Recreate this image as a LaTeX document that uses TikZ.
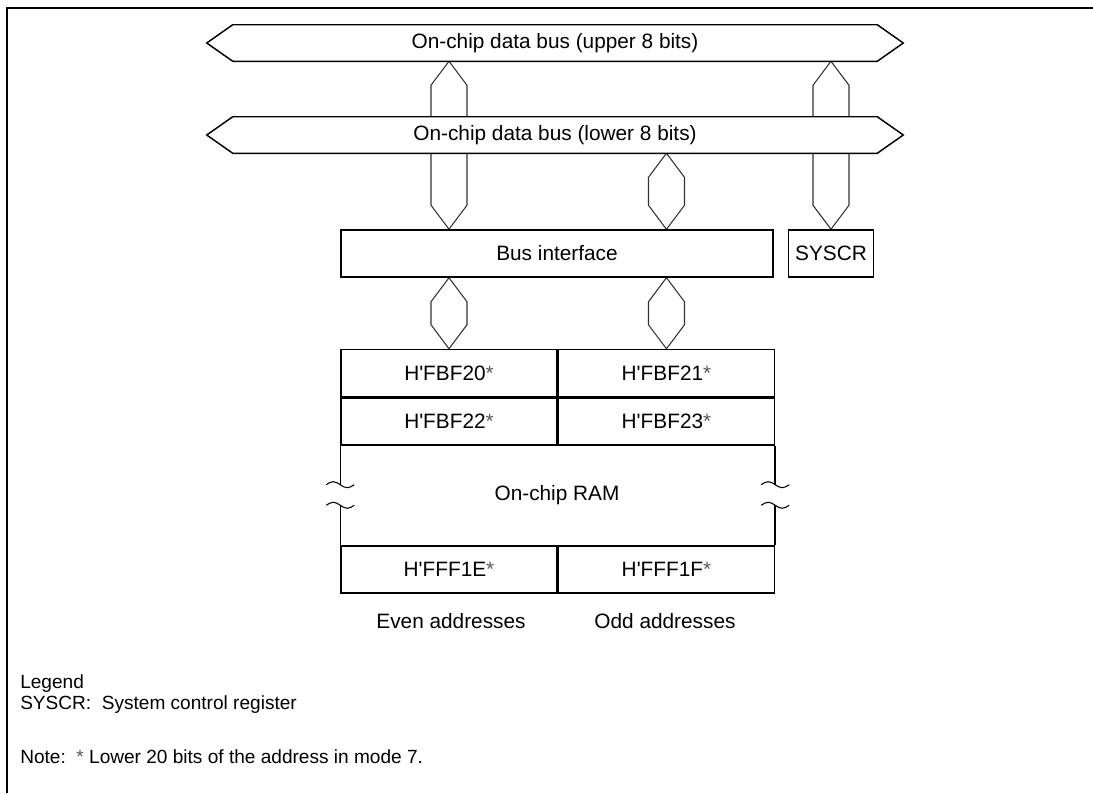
\documentclass[tikz,border=0pt]{standalone}
\usepackage{fontspec}
\setmainfont{Liberation Sans}
\usepackage{tikz}
\usetikzlibrary{positioning, calc}
\pgfdeclarelayer{background}
\pgfsetlayers{background,main}

% hexagonal bus link from top tip #1 to bottom tip #2
\newcommand{\buslink}[2]{%
  \draw[link] (#1) -- ++(-18,24) -- ($(#2)+(-18,-24)$) -- (#2)
    -- ($(#2)+(18,-24)$) -- ($(#1)+(18,24)$) -- cycle;}
% double headed bus outline round a node
\newcommand{\busoutline}[1]{%
  \draw[busline] (#1.north west) -- (#1.north east) -- ($(#1.east)+(26,0)$)
    -- (#1.south east) -- (#1.south west) -- ($(#1.west)+(-26,0)$) -- cycle;}
% break mark on the ram sides
\newcommand{\breakmark}[1]{%
  \draw[brk] ($(#1)+(-14,0)$) sin ++(7,-3) cos ++(7,3) sin ++(7,3) cos ++(7,-3);}
\newcommand{\addrmark}{{\color{black!65}*}}

\begin{document}
\begin{tikzpicture}[x=0.75pt, y=-0.75pt,
    every node/.style={inner sep=0pt, font=\fontsize{15.6}{18}\selectfont},
    node distance=0pt,
    busbox/.style={minimum width=483pt, minimum height=27pt},
    busline/.style={draw, fill=white, line width=1.1pt},
    box/.style={draw, line width=1.1pt},
    cell/.style={box, minimum width=162pt, minimum height=35.25pt},
    link/.style={draw=black!80, line width=0.8pt},
    brk/.style={line width=0.8pt},
    legendtext/.style={anchor=base west, font=\fontsize{14.3}{17}\selectfont},
    frame/.style={line width=1.5pt}
]
\useasboundingbox (0,0) rectangle (1093,793);

% Buses
\node[busbox] (upper) at (555,43) {On-chip data bus (upper 8 bits)};
\node[busbox] (lower) at (555,135) {On-chip data bus (lower 8 bits)};

% Bus interface and register
\node[box, minimum width=324pt, minimum height=35.25pt] (bif) at (557,253.5) {Bus interface};
\node[box, minimum width=63.75pt, minimum height=35.25pt, right=10.5pt of bif] (syscr) {SYSCR};

% RAM
\node[cell] (f20) at (449,373) {H\textquotesingle FBF20\addrmark};
\node[cell, right=of f20] (f21) {H\textquotesingle FBF21\addrmark};
\node[cell, below=of f20] (f22) {H\textquotesingle FBF22\addrmark};
\node[cell, right=of f22] (f23) {H\textquotesingle FBF23\addrmark};
\node (ram) at (557,495) {On-chip RAM};
\node[cell] (f1e) at (449,569.5) {H\textquotesingle FFF1E\addrmark};
\node[cell, right=of f1e] (f1f) {H\textquotesingle FFF1F\addrmark};
\node (even) at (451,621) {Even addresses};
\node (odd) at (665,621) {Odd addresses};

\draw[box] (f22.south west) -- ++(0,39) coordinate (bl1);
\draw[box] (f1e.north west) -- ++(0,-40) coordinate (bl2);
\draw[box] (f23.south east) -- ++(0,39) coordinate (br1);
\draw[box] (f1f.north east) -- ++(0,-40) coordinate (br2);
\foreach \b in {bl1,bl2,br1,br2} {\breakmark{\b}}

% Links and bus outlines
\begin{pgfonlayer}{background}
  \buslink{upper.south -| f20.north}{bif.north -| f20.north}
  \buslink{upper.south -| syscr.north}{syscr.north}
  \buslink{lower.south -| f21.north}{bif.north -| f21.north}
  \buslink{bif.south -| f20.north}{f20.north}
  \buslink{bif.south -| f21.north}{f21.north}
  \busoutline{upper}
  \busoutline{lower}
\end{pgfonlayer}

% Legend
\node[legendtext] (legend) at (20,688) {Legend};
\node[legendtext] (legsys) at (20,709) {SYSCR:\ \ System control register};
\node[legendtext] (note) at (20,763) {Note:\ \ \addrmark\ Lower 20 bits of the address in mode 7.};

\draw[frame] (7,793) -- (7,8) -- (1093,8);
\end{tikzpicture}
\end{document}
